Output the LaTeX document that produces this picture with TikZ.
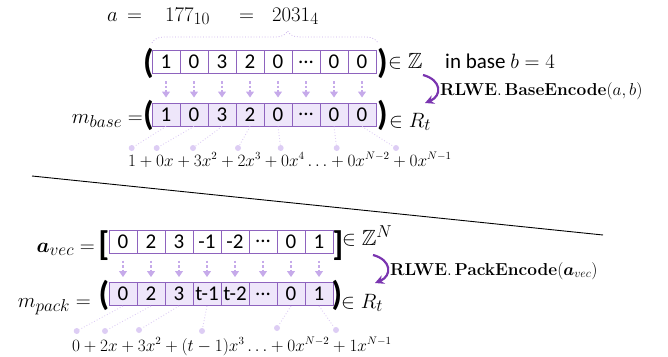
\documentclass[tikz,border=0pt]{standalone}
\usepackage{amsmath,amssymb}
\usepackage[no-math]{fontspec}
\setmainfont{Carlito}
\DeclareMathSizes{22}{22}{18}{14}
\usetikzlibrary{arrows.meta, positioning, calc, decorations.pathreplacing}
\definecolor{cframe}{HTML}{8E63BE}
\definecolor{cfill}{HTML}{EEE6FA}
\definecolor{clight}{HTML}{C6AAEA}
\definecolor{cdot}{HTML}{DDCDF4}
\definecolor{cdark}{HTML}{7A35B0}
\newcommand\celldots{...}
\tikzset{
  cell/.style={draw=cframe, line width=1pt, minimum width=28pt, minimum height=23pt, inner sep=0pt, font=\fontsize{21}{21}\selectfont},
  cellw/.style={cell, fill=white},
  cellf/.style={cell, fill=cfill},
  down/.style={-{Triangle[length=6pt,width=8pt]}, draw=clight, line width=1.1pt, dash pattern=on 2.5pt off 2pt, shorten <=7pt, shorten >=5pt},
  paren/.style={inner sep=0pt, font=\fontsize{34}{34}\selectfont\bfseries},
  txt/.style={inner sep=0pt, font=\fontsize{21}{21}\selectfont},
  mtxt/.style={inner sep=0pt, font=\fontsize{22}{22}\selectfont},
  poly/.style={inner sep=0pt, font=\fontsize{16.2}{16.2}\selectfont},
  encname/.style={inner sep=0pt, font=\fontsize{16.5}{16.5}\selectfont},
  curvearrow/.style={-{Stealth[length=9pt,width=9pt]}, draw=cdark, line width=2.2pt},
  pdot/.style={circle, fill=cdot, inner sep=0pt, minimum size=6pt},
  link/.style={draw=cdot, line width=0.9pt, dotted},
}

\begin{document}
\begin{tikzpicture}[x=1pt, y=-1pt]
  \useasboundingbox (0,0) rectangle (668,356);
  % upper half: integer a in base b
  \node[mtxt, anchor=base west] (aname) at (107,21) {$a$};
  \node[mtxt, anchor=base west] (eq1) at (127,21) {$=$};
  \node[mtxt, anchor=base west] (adec) at (165,21) {$177_{10}$};
  \node[mtxt, anchor=base west] (eq2) at (239,21) {$=$};
  \node[mtxt, anchor=base west] (aquat) at (272,21) {$2031_4$};
  \draw[decorate, decoration={brace, amplitude=12pt, aspect=0.6}, clight, line width=0.8pt, dotted] (152,43) -- (378,43);
  \foreach \v [count=\i] in {1,0,3,2,0,\celldots,0,0} {
    \node[cellw] (t\i) at ({166+28*(\i-1)},62) {\v};
    \node[cellf] (b\i) at ({166+28*(\i-1)},114.5) {\v};
    \draw[down] (t\i) -- (b\i);
  }
  \node[paren] (tl) at (148.5,63) {(};
  \node[paren] (tr) at (382.5,63) {)};
  \node[paren] (bl) at (148.5,115) {(};
  \node[paren] (br) at (382.5,115) {)};
  \node[mtxt, anchor=base west] (inz) at (388,68) {$\in\mathbb{Z}$};
  \node[txt, anchor=base west] (inbase) at (445,68) {in base $b = 4$};
  \node[mtxt, anchor=base east] (mbase) at (143,123) {$m_{base} =$};
  \node[mtxt, anchor=base west] (inrt) at (389,127) {$\in R_t$};
  \coordinate (s1) at (423,75);
  \coordinate (e1) at (425,103);
  \draw[curvearrow] (s1) .. controls (442,80) and (442,96) .. (e1);
  \node[encname, anchor=base west] (benc) at (440,95) {$\mathbf{RLWE}.\,\mathbf{BaseEncode}(a, b)$};
  % coefficients of m_base
  \node[poly, anchor=base west] (bpoly) at (128,166) {$1 + 0x + 3x^2 + 2x^3 + 0x^4 \ldots + 0x^{N-2} + 0x^{N-1}$};
  \foreach \x [count=\i] in {131.7,156.7,193,238,280.7,336.7,396}
    \node[pdot] (q\i) at (\x,148) {};
  \foreach \i/\j in {1/1,2/2,3/3,4/4,5/5,7/6,8/7}
    \draw[link] (b\i.south) -- (q\j);
  % divider
  \draw[line width=0.9pt] (32,176) -- (603,235);
  % lower half: vector a_vec
  \node[mtxt, anchor=base east] (avec) at (95,252) {$\boldsymbol{a}_{vec} =$};
  \foreach \v/\w [count=\i] in {0/0,2/2,3/3,-1/t-1,-2/t-2,\celldots/\celldots,0/0,1/1} {
    \node[cellw] (u\i) at ({123+28*(\i-1)},241.5) {\v};
    \node[cellf] (c\i) at ({123+28*(\i-1)},294) {\w};
    \draw[down] (u\i) -- (c\i);
  }
  \node[paren] (ul) at (104,246) {[};
  \node[paren] (ur) at (338,246) {]};
  \node[paren] (cl) at (104,295) {(};
  \node[paren] (cr) at (337,295) {)};
  \node[mtxt, anchor=base west] (inzn) at (342,245) {$\in\mathbb{Z}^N$};
  \node[mtxt, anchor=base east] (mpack) at (91,307) {$m_{pack} =$};
  \node[mtxt, anchor=base west] (inrt2) at (341,308) {$\in R_t$};
  \coordinate (s2) at (373,255);
  \coordinate (e2) at (375,283);
  \draw[curvearrow] (s2) .. controls (392,260) and (392,276) .. (e2);
  \node[encname, anchor=base west] (penc) at (390,275) {$\mathbf{RLWE}.\,\mathbf{PackEncode}(\boldsymbol{a}_{vec})$};
  % coefficients of m_pack
  \node[poly, anchor=base west] (ppoly) at (72,351) {$0 + 2x + 3x^2 + (t-1)x^3 \ldots + 0x^{N-2} + 1x^{N-1}$};
  \foreach \x/\y [count=\i] in {76.7/331,105/331,139/330,202/331,277/328,336/330}
    \node[pdot] (r\i) at (\x,\y) {};
  \foreach \i/\j in {1/1,2/2,3/3,4/4,7/5,8/6}
    \draw[link] (c\i.south) -- (r\j);
\end{tikzpicture}
\end{document}
